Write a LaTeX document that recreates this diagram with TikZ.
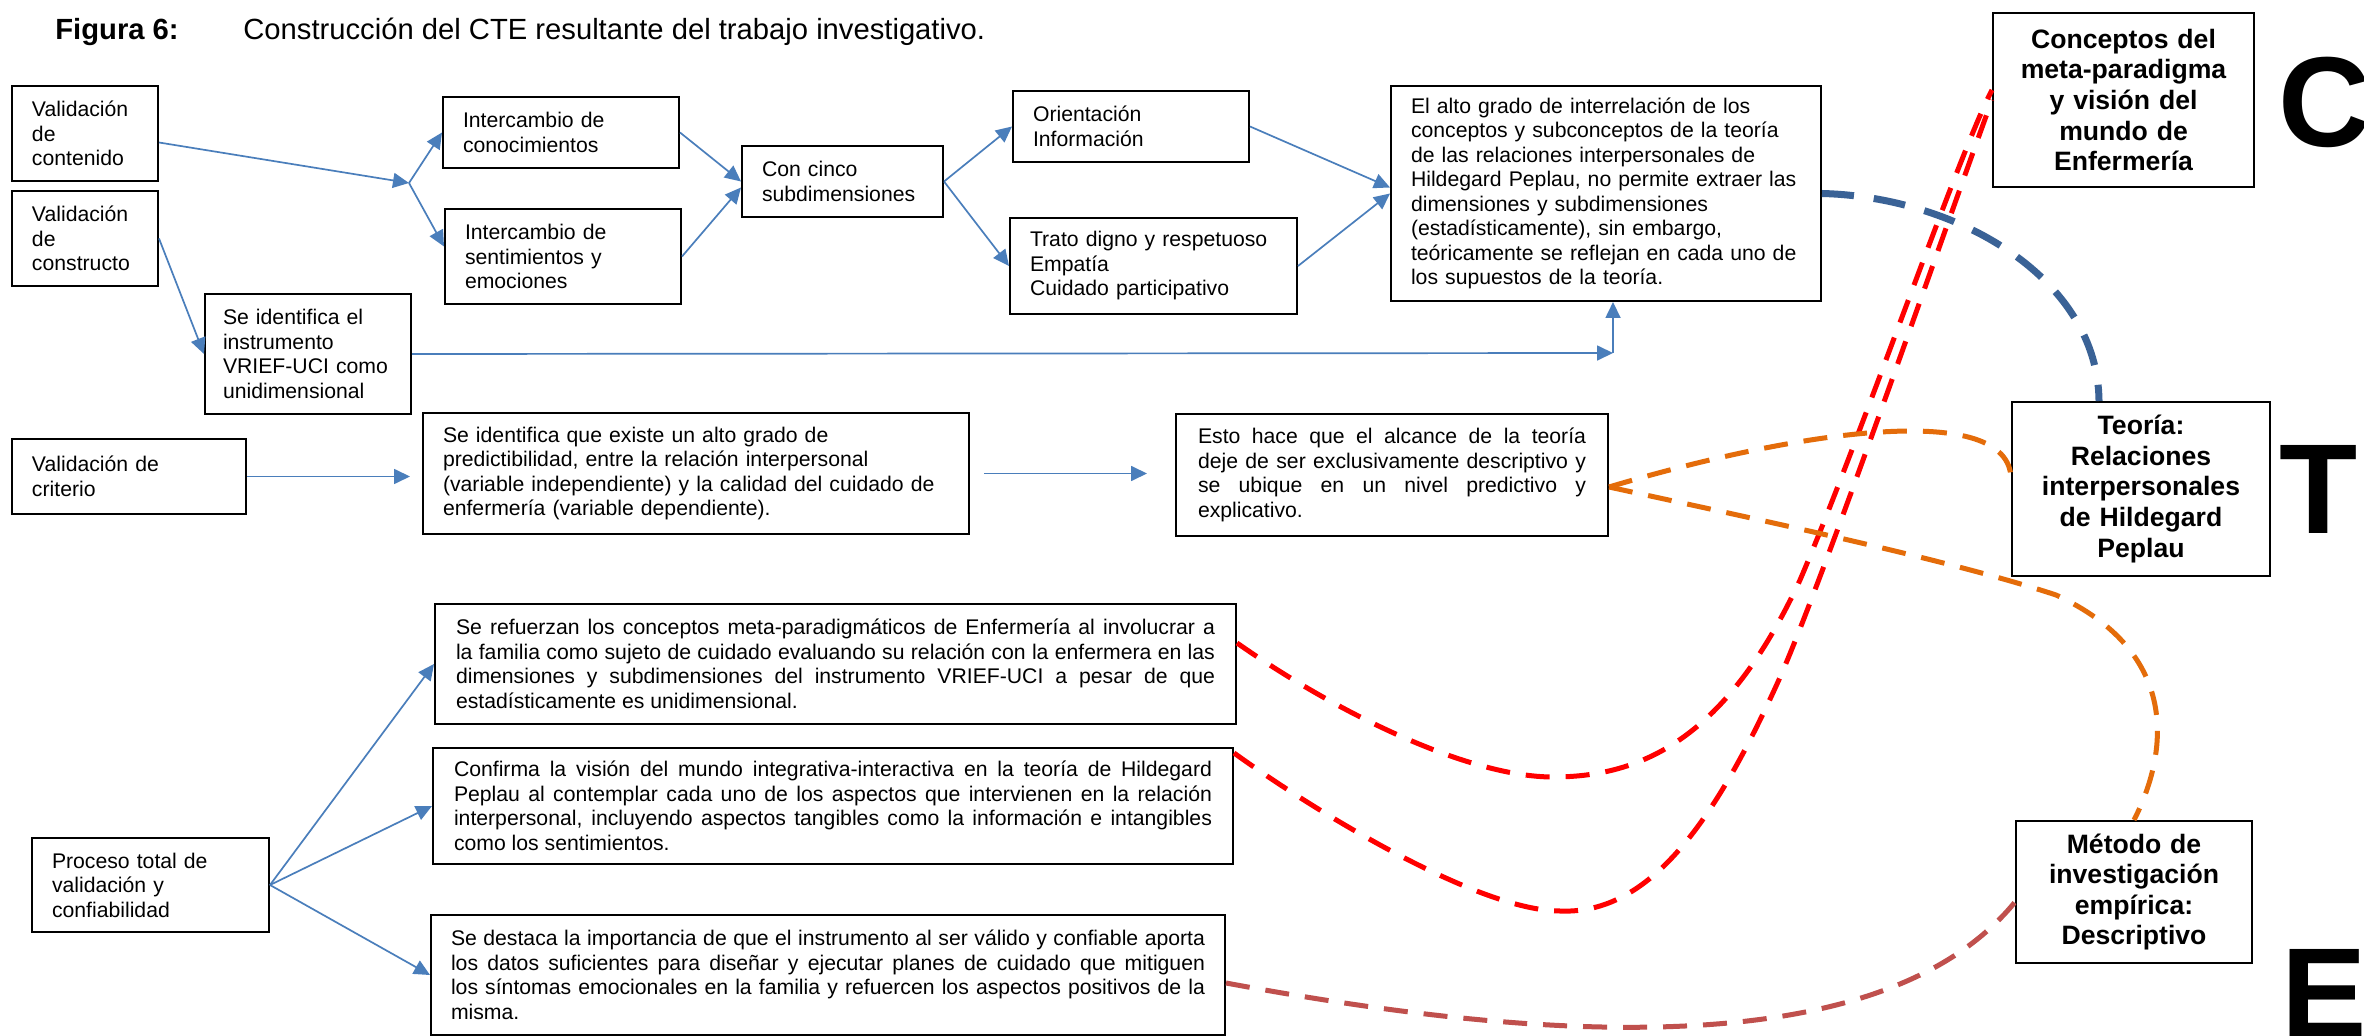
\documentclass[tikz,border=0pt]{standalone}
\usepackage{fontspec}
\setmainfont{Liberation Sans}
\usetikzlibrary{arrows.meta,positioning}
\definecolor{arrowblue}{HTML}{4A7EBB}
\definecolor{teoblue}{HTML}{3A6296}
\definecolor{conred}{HTML}{FF0000}
\definecolor{teoorange}{HTML}{E46C0A}
\definecolor{metbrown}{HTML}{C0504D}

\begin{document}
\begin{tikzpicture}[x=0.5pt,y=-0.5pt,
  box/.style={draw,line width=1pt,anchor=north west,align=left,inner xsep=10pt,inner ysep=0pt,font=\fontsize{10.6}{12.25}\selectfont},
  jbox/.style={box,align=justify},
  keybox/.style={draw,line width=1pt,anchor=north west,align=center,inner xsep=6pt,inner ysep=0pt,font=\fontsize{13.3}{15.3}\selectfont\bfseries},
  letter/.style={anchor=base west,inner sep=0pt,font=\fontsize{64}{64}\selectfont\bfseries},
  link/.style={arrowblue,line width=0.85pt,-{Triangle[length=8pt,width=7.5pt]}},
  tie/.style={line width=2.5pt,dash pattern=on 12pt off 8pt}]
  \fill[white] (0,0) rectangle (2364,1036);
  \useasboundingbox (0,0) rectangle (2364,1036);

  % title
  \node[anchor=base west,inner sep=0pt,font=\fontsize{14.6}{17}\selectfont\bfseries] (fignum) at (55,40) {Figura 6:};
  \node[anchor=base west,inner sep=0pt,font=\fontsize{14.6}{17}\selectfont] (figcap) at (243,40) {Construcción del CTE resultante del trabajo investigativo.};

  % upper row
  \node[box,text width=53pt,minimum height=47.5pt] (vcont) at (11,85) {Validación\\de\\contenido};
  \node[box,text width=53pt,minimum height=47.5pt] (vcons) at (11,190) {Validación\\de\\constructo};
  \node[box,inner xsep=9pt,text width=85pt,minimum height=60pt] (ident) at (204,293) {Se identifica el\\instrumento\\VRIEF-UCI~como\\unidimensional};
  \node[box,text width=98pt,minimum height=35.5pt] (inter1) at (442,96) {Intercambio de\\conocimientos};
  \node[box,text width=98pt,minimum height=47.5pt] (inter2) at (444,208) {Intercambio de\\sentimientos y\\emociones};
  \node[box,text width=80.5pt,minimum height=35.5pt] (cinco) at (741,145) {Con cinco\\subdimensiones};
  \node[box,text width=98pt,minimum height=35.5pt] (orient) at (1012,90) {Orientación\\Información};
  \node[box,text width=123.5pt,minimum height=48pt] (trato) at (1009,217) {Trato digno y respetuoso\\Empatía\\Cuidado participativo};
  \node[box,text width=195pt,minimum height=107.5pt] (alto) at (1390,85) {El alto grado de interrelación de los\\conceptos y subconceptos de la teoría\\de las relaciones interpersonales de\\Hildegard Peplau, no permite extraer las\\dimensiones y subdimensiones\\(estadísticamente), sin embargo,\\teóricamente se reflejan en cada uno de\\los supuestos de la teoría.};

  % middle row
  \node[box,text width=97pt,minimum height=37.5pt] (vcrit) at (11,438) {Validación de\\criterio};
  \node[box,text width=253pt,minimum height=60.5pt] (predic) at (422,412) {Se identifica que existe un alto grado de\\predictibilidad, entre la relación interpersonal\\(variable independiente) y la calidad del cuidado de\\enfermería (variable dependiente).};
  \node[jbox,inner xsep=11pt,text width=194pt,minimum height=61pt] (esto) at (1175,413) {Esto hace que el alcance de la teoría\linebreak deje de ser exclusivamente descriptivo y\linebreak se ubique en un nivel predictivo y\linebreak explicativo.};

  % lower row
  \node[box,text width=98.5pt,minimum height=47pt] (proc) at (31,837) {Proceso total de\\validación y\\confiabilidad};
  \node[jbox,inner xsep=10.5pt,text width=379.5pt,minimum height=60pt] (refu) at (434,603) {Se refuerzan los conceptos meta-paradigmáticos de Enfermería al involucrar a\linebreak la familia como sujeto de cuidado evaluando su relación con la enfermera en las\linebreak dimensiones y subdimensiones del instrumento VRIEF-UCI a pesar de que\linebreak estadísticamente es unidimensional.};
  \node[jbox,inner xsep=10.5pt,text width=379pt,minimum height=58pt] (confi) at (432,747) {Confirma la visión del mundo integrativa-interactiva en la teoría de Hildegard\linebreak Peplau al contemplar cada uno de los aspectos que intervienen en la relación\linebreak interpersonal, incluyendo aspectos tangibles como la información e intangibles\linebreak como los sentimientos.};
  \node[jbox,text width=377pt,minimum height=60pt] (desta) at (430,914) {Se destaca la importancia de que el instrumento al ser válido y confiable aporta\linebreak los datos suficientes para diseñar y ejecutar planes de cuidado que mitiguen\linebreak los síntomas emocionales en la familia y refuercen los aspectos positivos de la\linebreak misma.};

  % C, T, E column
  \node[keybox,text width=118.5pt,minimum height=87pt] (conc) at (1992,12) {Conceptos del\\meta-paradigma\\y visión del\\mundo de\\Enfermería};
  \node[keybox,text width=117pt,minimum height=87pt] (teo) at (2011,401) {Teoría:\\Relaciones\\interpersonales\\de Hildegard\\Peplau};
  \node[keybox,text width=106pt,minimum height=71pt] (meto) at (2015,820) {Método de\\investigación\\empírica:\\Descriptivo};
  \node[letter] (letc) at (2278,147) {C};
  \node[letter] (lett) at (2279,534) {T};
  \node[letter] (lete) at (2281,1037) {E};

  % arrows
  \coordinate (split) at (409,183);
  \draw[link] ([yshift=-4.5pt]vcont.east) -- (split);
  \draw[link] (split) -- (inter1.west);
  \draw[link] (split) -- ([yshift=5pt]inter2.west);
  \draw[link] (vcons.east) -- (ident.west);
  \draw[link] (inter1.east) -- (cinco.west);
  \draw[link] (inter2.east) -- ([yshift=-3pt]cinco.west);
  \draw[link] (cinco.east) -- (orient.west);
  \draw[link] (cinco.east) -- (trato.west);
  \draw[link] (orient.east) -- ([yshift=3pt]alto.west);
  \draw[link] (trato.east) -- (alto.west);
  \coordinate (kink) at (1613,353);
  \draw[link] (ident.east) -- (kink);
  \draw[link] (kink) -- (kink |- alto.south);
  \draw[link,shorten >=6pt] (vcrit.east) -- (vcrit.east -| predic.west);
  \draw[link,shorten <=7pt,shorten >=14pt] (predic.east) -- (predic.east -| esto.west);
  \draw[link] (proc.east) -- (refu.west);
  \draw[link] (proc.east) -- (confi.west);
  \draw[link] (proc.east) -- (desta.west);

  % dashed ties to C, T, E
  \draw[teoblue,line width=3.5pt,dash pattern=on 16pt off 10pt] (alto.east) .. controls (1960,197) and (2098,280) .. ([xshift=-21pt]teo.north);
  \draw[conred,tie] ([yshift=-20pt]refu.north east) .. controls (1340,715) and (1470,777) .. (1553,777)
    .. controls (1650,777) and (1730,730) .. (1800,580) .. controls (1860,440) and (1960,150) .. ([yshift=5pt]conc.west);
  \draw[conred,tie] ([yshift=-3pt]confi.north east) .. controls (1320,815) and (1480,911) .. (1560,911)
    .. controls (1650,915) and (1715,820) .. (1777,684) .. controls (1820,590) and (1955,200) .. (conc.west);
  \draw[teoorange,tie] ([yshift=-6pt]esto.east) .. controls (1800,430) and (2010,400) .. ([yshift=5pt]teo.west);
  \draw[teoorange,tie] ([yshift=-6pt]esto.east) .. controls (1760,520) and (1950,560) .. (2056,595)
    .. controls (2175,650) and (2172,745) .. (meto.north);
  \draw[metbrown,tie] ([yshift=-4pt]desta.east) .. controls (1480,1030) and (1870,1080) .. ([yshift=-5pt]meto.west);
\end{tikzpicture}
\end{document}
